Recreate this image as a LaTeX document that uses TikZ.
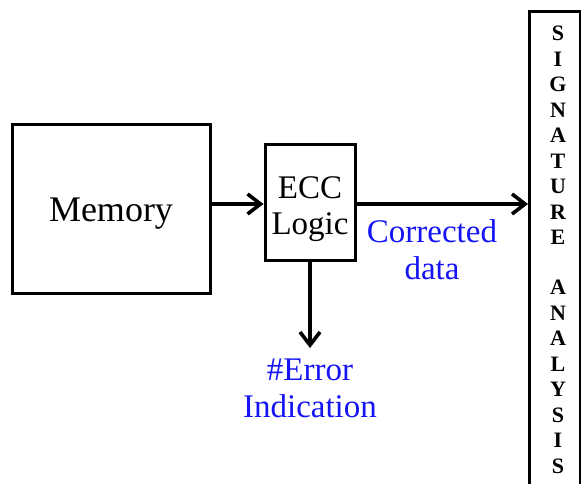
\documentclass[tikz,border=0pt]{standalone}
\usepackage{fontspec}
\setmainfont{Liberation Serif}
\usetikzlibrary{arrows.meta}
\definecolor{labelblue}{RGB}{20,20,245}
\begin{document}
\begin{tikzpicture}[x=1pt,y=-1pt,
  box/.style={draw=black,line width=3pt,fill=white,inner sep=0pt},
  flow/.style={line width=3.6pt,-{Straight Barb[length=13pt,width=20pt,line width=3.6pt]}},
  bluelabel/.style={text=labelblue,font=\fontsize{33}{37}\selectfont,align=center,inner sep=0pt}]
  \useasboundingbox (0,0) rectangle (581,484);
  \clip (0,0) rectangle (581,484);
  % blocks
  \node[box,minimum width=198pt,minimum height=168pt] (mem) at (111,209) {};
  \node[font=\fontsize{36}{40}\selectfont,inner sep=0pt] (memtext) at (111,214) {Memory};
  \node[box,minimum width=90pt,minimum height=115pt] (ecc) at (310,202.5) {};
  \node[align=center,inner sep=0pt,font=\fontsize{33}{36}\selectfont]
    (ecctext) at (310,209) {ECC\\Logic};
  \node[box,minimum width=51pt,minimum height=490pt,anchor=north west]
    (sig) at (528,10) {};
  \node[font=\bfseries\fontsize{22}{25.5}\selectfont,align=center,inner sep=0pt,anchor=north]
    (sigtext) at (558,26) {S\\I\\G\\N\\A\\T\\U\\R\\E\\[24.5pt]A\\N\\A\\L\\Y\\S\\I\\S};
  % connectors
  \draw[flow] (mem.east |- 0,204) -- (ecc.west |- 0,204);
  \draw[flow] (ecc.east |- 0,204) -- (sig.west |- 0,204);
  \coordinate (errend) at (310,348);
  \draw[flow] (ecc.south) -- (errend);
  % labels
  \node[bluelabel] (corr) at (432,250) {Corrected\\data};
  \node[bluelabel] (err) at (310,388) {\#Error\\Indication};
\end{tikzpicture}
\end{document}
